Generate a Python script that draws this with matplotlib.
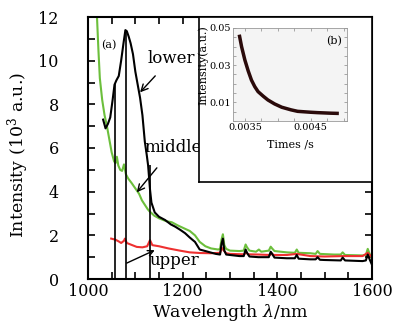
import matplotlib
matplotlib.use("Agg")
import matplotlib.pyplot as plt
from matplotlib.ticker import MultipleLocator

# main spectra (wavelength nm, intensity 10^3 a.u.)
black_wl = [1032, 1037, 1042, 1047, 1052, 1056, 1060, 1065, 1070, 1075, 1079, 1082, 1086, 1090,
            1095, 1100, 1105, 1110, 1115, 1120, 1124, 1127, 1131, 1134, 1141, 1150, 1163, 1175,
            1184, 1195, 1205, 1215, 1226, 1236, 1248, 1258, 1270, 1279, 1282, 1285, 1288, 1292,
            1300, 1320, 1329, 1333, 1336, 1341, 1360, 1382, 1386, 1389, 1394, 1420, 1437, 1441,
            1445, 1470, 1481, 1485, 1490, 1500, 1534, 1538, 1543, 1580, 1587, 1591, 1595, 1600]
black_val = [7.3, 6.9, 7.1, 7.4, 8.2, 8.9, 9.1, 9.3, 10.0, 10.8, 11.4, 11.35, 11.1, 10.8,
             10.3, 9.5, 8.9, 8.3, 7.5, 6.3, 5.7, 5.2, 4.1, 3.5, 3.05, 2.85, 2.7, 2.5,
             2.4, 2.25, 2.1, 1.9, 1.7, 1.35, 1.28, 1.22, 1.15, 1.12, 1.6, 1.85, 1.3, 1.12,
             1.1, 1.05, 1.05, 1.35, 1.2, 1.03, 1.0, 1.0, 1.25, 1.15, 0.98, 0.95, 0.95, 1.1,
             0.93, 0.9, 0.9, 1.0, 0.88, 0.87, 0.85, 0.98, 0.85, 0.82, 0.85, 1.12, 0.9, 0.65]

green_wl = [1019, 1022, 1025, 1030, 1035, 1040, 1045, 1050, 1055, 1058, 1061, 1064, 1068, 1072,
            1076, 1080, 1085, 1092, 1100, 1108, 1114, 1120, 1126, 1130, 1140, 1150, 1165, 1177,
            1190, 1205, 1215, 1226, 1236, 1248, 1260, 1275, 1279, 1282, 1285, 1288, 1292, 1300,
            1320, 1329, 1333, 1336, 1341, 1355, 1361, 1366, 1382, 1386, 1389, 1394, 1420, 1437,
            1441, 1445, 1470, 1481, 1485, 1490, 1520, 1534, 1538, 1543, 1580, 1587, 1591, 1595,
            1600]
green_val = [12.0, 10.5, 9.2, 8.2, 7.5, 7.0, 6.4, 5.8, 5.4, 5.3, 5.6, 5.2, 5.0, 4.95,
             5.25, 4.8, 4.6, 4.4, 4.15, 3.9, 3.6, 3.4, 3.2, 3.1, 2.9, 2.78, 2.65, 2.6,
             2.45, 2.3, 2.2, 2.0, 1.7, 1.5, 1.4, 1.35, 1.38, 1.8, 2.05, 1.55, 1.38, 1.3,
             1.28, 1.3, 1.58, 1.45, 1.3, 1.25, 1.35, 1.25, 1.3, 1.48, 1.4, 1.28, 1.22, 1.2,
             1.35, 1.2, 1.18, 1.15, 1.28, 1.15, 1.12, 1.12, 1.22, 1.1, 1.08, 1.1, 1.38, 1.15,
             0.95]

red_wl = [1049, 1058, 1065, 1070, 1076, 1078, 1082, 1090, 1103, 1115, 1125, 1131, 1136, 1150,
          1170, 1194, 1215, 1237, 1260, 1279, 1283, 1287, 1292, 1300, 1330, 1334, 1338, 1360,
          1385, 1388, 1392, 1420, 1441, 1470, 1500, 1540, 1580, 1591, 1600]
red_val = [1.85, 1.8, 1.72, 1.65, 1.75, 1.85, 1.65, 1.58, 1.47, 1.45, 1.5, 1.78, 1.55, 1.5,
           1.4, 1.3, 1.22, 1.19, 1.18, 1.2, 1.42, 1.3, 1.18, 1.15, 1.13, 1.22, 1.13, 1.12,
           1.1, 1.18, 1.1, 1.1, 1.15, 1.05, 1.03, 1.05, 1.05, 1.2, 1.0]

peak_wl = [1058, 1080, 1130]
peak_top = [9.0, 11.4, 5.2]

# inset decay curve
t_decay = [0.00342, 0.00345, 0.0035, 0.00355, 0.0036, 0.00365, 0.0037, 0.00378, 0.00385,
           0.00395, 0.00406, 0.0042, 0.0043, 0.0045, 0.0046, 0.0048, 0.0049]
i_decay = [0.0455, 0.040, 0.0328, 0.027, 0.022, 0.0185, 0.0158, 0.0133, 0.0113,
           0.0092, 0.0074, 0.0060, 0.0052, 0.0047, 0.0045, 0.0042, 0.0041]

plt.rcParams['font.family'] = ['DejaVu Serif']
plt.rcParams['mathtext.fontset'] = 'dejavuserif'

W, H = 394, 327
fig = plt.figure(figsize=(W / 100, H / 100), dpi=100)
ax = fig.add_axes([88 / W, 1 - 279 / H, (372 - 88) / W, (279 - 17) / H])

ax.plot(green_wl, green_val, color='#6cbf3c', lw=1.5)
ax.plot(red_wl, red_val, color='#ee3030', lw=1.5)
ax.plot(black_wl, black_val, color='black', lw=1.5)
ax.vlines(peak_wl, 0, peak_top, color='black', lw=1.2)

ax.set_xlim(1000, 1600)
ax.set_ylim(0, 12)
ax.xaxis.set_major_locator(MultipleLocator(200))
ax.xaxis.set_minor_locator(MultipleLocator(50))
ax.yaxis.set_major_locator(MultipleLocator(2))
ax.yaxis.set_minor_locator(MultipleLocator(1))
ax.tick_params(which='both', direction='in', top=True, right=True, width=1.2)
ax.tick_params(which='major', length=5, labelsize=11.5)
ax.tick_params(which='minor', length=5)
ax.tick_params(axis='y', pad=21)
ax.tick_params(axis='x', pad=3)
for s in ax.spines.values():
    s.set_linewidth(1.5)
ax.set_xlabel(r'Wavelength $\lambda$/nm', fontsize=12.5, labelpad=1)
ax.set_ylabel(r'Intensity (10$^3$ a.u.)', fontsize=12.5)
ax.yaxis.set_label_coords(-0.2, 0.475)

ax.text(1045, 10.7, '(a)', fontsize=8, ha='center', va='center')
ax.annotate('lower', xy=(1110, 8.55), xytext=(1176, 10.1), fontsize=12, ha='center', va='center',
            arrowprops=dict(arrowstyle='->', color='black', lw=1, shrinkA=6, shrinkB=0))
ax.annotate('middle', xy=(1103, 3.97), xytext=(1180, 6.0), fontsize=12, ha='center', va='center',
            arrowprops=dict(arrowstyle='->', color='black', lw=1, shrinkA=8, shrinkB=0))
ax.text(1182, 0.85, 'upper', fontsize=12, ha='center', va='center')
ax.annotate('', xy=(1141, 1.32), xytext=(1082, 0.73),
            arrowprops=dict(arrowstyle='->', color='black', lw=1, shrinkA=0, shrinkB=0))

# inset frame
box = fig.add_axes([199 / W, 1 - 182 / H, (372 - 199) / W, (182 - 17) / H])
box.set_xticks([])
box.set_yticks([])
box.set_facecolor('white')
for s in box.spines.values():
    s.set_linewidth(1.2)

ins = fig.add_axes([233 / W, 1 - 121 / H, (347 - 233) / W, (121 - 28) / H])
ins.set_facecolor('#f4f4f4')
ins.plot(t_decay, i_decay, color='#2a0a0a', lw=2.5)
ins.set_xlim(0.00332, 0.00505)
ins.set_ylim(0, 0.05)
ins.set_xticks([0.0035, 0.0045])
ins.set_xticklabels(['0.0035', '0.0045'])
ins.set_yticks([0.01, 0.03, 0.05])
ins.set_yticklabels(['0.01', '0.03', '0.05'])
ins.xaxis.set_minor_locator(MultipleLocator(0.00025))
ins.yaxis.set_minor_locator(MultipleLocator(0.005))
ins.tick_params(which='both', direction='in', top=True, right=True, length=2, width=0.5,
                color='#888888', labelsize=7, pad=1.5)
for s in ins.spines.values():
    s.set_linewidth(0.6)
    s.set_color('#999999')
ins.text(0.00497, 0.043, '(b)', fontsize=8, ha='right', va='center')
ins.set_xlabel('Times /s', fontsize=8, labelpad=5)
ins.set_ylabel('Intensity(a.u.)', fontsize=8)
ins.yaxis.set_label_coords(-0.22, 0.6)

fig.savefig('out.png', dpi=100)
